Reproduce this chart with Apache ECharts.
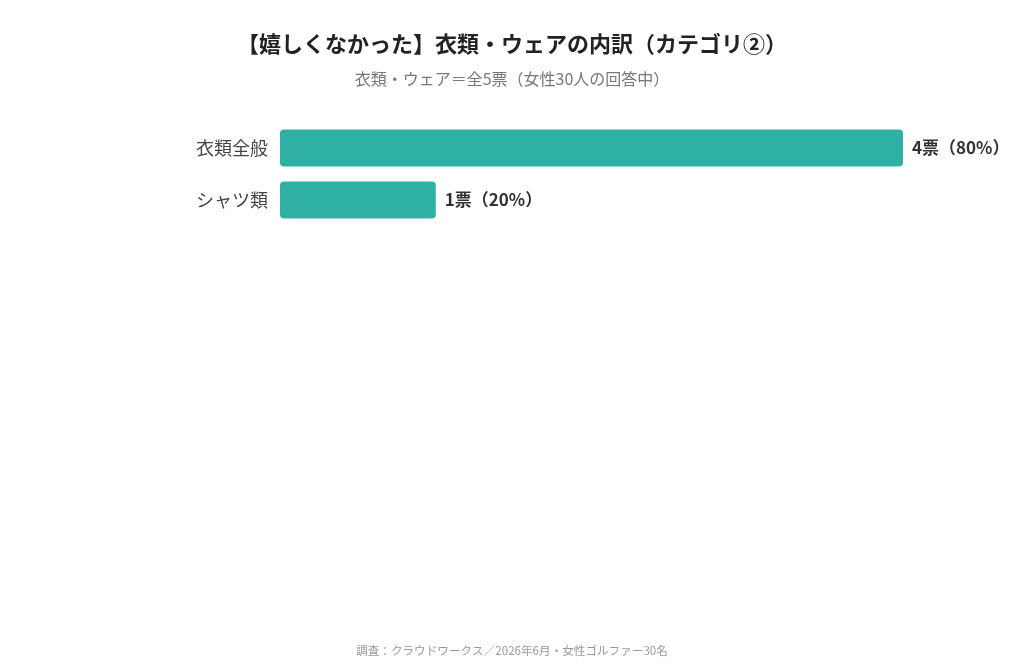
<!DOCTYPE html>
<html>
<head>
<meta charset="utf-8">
<script src="https://cdn.jsdelivr.net/npm/echarts@6/dist/echarts.min.js"></script>
<style>
  html, body { margin: 0; padding: 0; background: #fff; }
  #chart { width: 1024px; height: 670px; }
</style>
</head>
<body>
<div id="chart"></div>
<script>
const categories = ['衣類全般', 'シャツ類']
const votes = [4, 1]
const percents = [80, 20]

const font = '"Noto Sans CJK JP", "Noto Sans", sans-serif'
let myChart = echarts.init(document.getElementById('chart'))

myChart.setOption({
  backgroundColor: '#fff',
  textStyle: { fontFamily: font },
  title: [
    {
      text: '【嬉しくなかった】衣類・ウェアの内訳（カテゴリ②）',
      left: 'center',
      top: 28,
      textStyle: { fontSize: 22, fontWeight: 'bold', color: '#222', fontFamily: font }
    },
    {
      text: '衣類・ウェア＝全5票（女性30人の回答中）',
      left: 'center',
      top: 66,
      textStyle: { fontSize: 16, fontWeight: 'normal', color: '#777', fontFamily: font }
    },
    {
      text: '調査：クラウドワークス／2026年6月・女性ゴルファー30名',
      left: 'center',
      top: 640,
      textStyle: { fontSize: 11.6, fontWeight: 'normal', color: '#999', fontFamily: font }
    }
  ],
  grid: { left: 280, right: 121, top: 122, height: 104 },
  xAxis: {
    type: 'value',
    min: 0,
    max: 4,
    show: false
  },
  yAxis: {
    type: 'category',
    inverse: true,
    data: categories,
    axisLine: { show: false },
    axisTick: { show: false },
    axisLabel: { fontSize: 18, color: '#444', margin: 12 }
  },
  series: [
    {
      type: 'bar',
      data: votes,
      barWidth: 37,
      itemStyle: { color: '#2eb0a5', borderRadius: 4 },
      label: {
        show: true,
        position: 'right',
        distance: 9,
        fontSize: 17,
        fontWeight: 'bold',
        color: '#333',
        formatter: p => p.value + '票（' + percents[p.dataIndex] + '%）'
      }
    }
  ]
})
</script>
</body>
</html>
